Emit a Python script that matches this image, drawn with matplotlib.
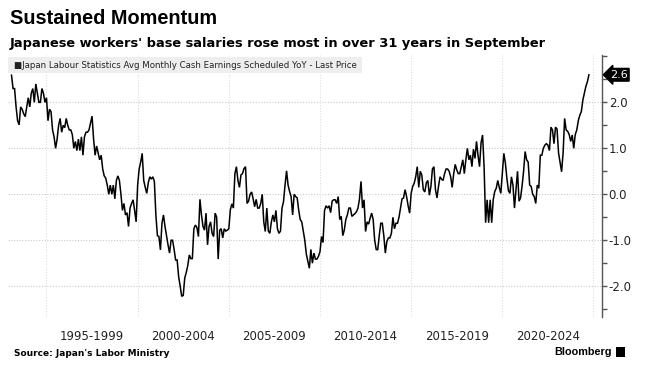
import matplotlib
matplotlib.use("Agg")
import matplotlib.pyplot as plt
import matplotlib.transforms as mtransforms
from matplotlib.patches import Rectangle
import numpy as np
import pandas as pd

# monthly YoY % change of scheduled cash earnings, Jan 1993 .. Sep 2024
yoy = [
    2.59, 2.30, 2.30, 1.90, 1.60, 1.51, 1.90, 1.85, 1.75, 1.69, 1.90, 2.10,
    1.90, 2.20, 2.30, 2.00, 2.40, 2.20, 2.00, 2.00, 2.30, 2.20, 2.00, 2.10,
    1.60, 1.85, 1.80, 1.40, 1.25, 1.00, 1.20, 1.50, 1.65, 1.35, 1.50, 1.45,
    1.65, 1.50, 1.40, 1.40, 1.30, 1.00, 1.15, 0.95, 1.20, 0.95, 1.25, 0.85,
    1.25, 1.35, 1.35, 1.40, 1.55, 1.70, 1.20, 0.85, 1.05, 0.90, 0.75, 0.85,
    0.55, 0.40, 0.35, 0.20, 0.00, 0.20, 0.00, 0.20, -0.10, 0.30, 0.40, 0.30,
    0.00, -0.35, -0.20, -0.45, -0.40, -0.70, -0.30, -0.20, -0.12, -0.35, -0.60, 0.20,
    0.55, 0.70, 0.89, 0.30, 0.15, 0.02, 0.25, 0.38, 0.33, 0.38, 0.28, -0.45,
    -0.90, -0.92, -1.21, -0.63, -0.45, -0.70, -0.90, -1.10, -1.28, -1.00, -1.00, -1.20,
    -1.43, -1.43, -1.80, -2.00, -2.22, -2.20, -1.82, -1.70, -1.55, -1.32, -1.40, -1.40,
    -0.75, -0.67, -0.72, -0.92, -0.11, -0.45, -0.70, -0.78, -0.41, -1.10, -0.70, -0.60,
    -0.85, -0.92, -0.41, -0.50, -1.41, -0.78, -0.75, -0.95, -0.75, -0.80, -0.78, -0.75,
    -0.34, -0.21, -0.30, 0.45, 0.60, 0.30, 0.15, 0.42, 0.45, 0.56, 0.60, -0.20,
    -0.15, 0.00, 0.05, -0.10, -0.27, -0.11, -0.30, -0.30, -0.20, 0.00, -0.60, -0.81,
    -0.30, -0.80, -0.85, -0.60, -0.45, -0.60, -0.35, -0.75, -0.85, -0.80, -0.30, -0.16,
    0.20, 0.51, 0.20, 0.06, -0.05, -0.45, 0.00, -0.05, -0.08, -0.35, -0.55, -0.60,
    -0.80, -1.00, -1.30, -1.45, -1.61, -1.20, -1.50, -1.28, -1.41, -1.41, -1.35, -1.25,
    -0.92, -1.05, -0.35, -0.25, -0.30, -0.25, -0.40, -0.15, -0.12, -0.12, -0.20, -0.05,
    -0.55, -0.48, -0.90, -0.78, -0.55, -0.45, -0.30, -0.30, -0.48, -0.45, -0.42, -0.38,
    -0.30, -0.10, 0.28, -0.30, -0.12, -0.81, -0.60, -0.65, -0.52, -0.41, -0.55, -1.00,
    -1.20, -1.21, -0.90, -0.63, -0.63, -0.90, -1.28, -1.03, -0.95, -0.95, -0.85, -0.50,
    -0.75, -0.63, -0.63, -0.50, -0.30, -0.10, -0.08, 0.10, -0.05, -0.25, -0.41, 0.02,
    0.17, 0.24, 0.38, 0.60, 0.15, 0.50, 0.42, 0.10, 0.05, 0.25, 0.30, -0.02,
    0.17, 0.55, 0.60, 0.10, -0.08, 0.17, 0.38, 0.33, 0.30, 0.45, 0.55, 0.55,
    0.50, 0.38, 0.15, 0.45, 0.65, 0.53, 0.45, 0.45, 0.60, 0.75, 0.45, 0.75,
    1.00, 0.75, 0.85, 0.60, 0.98, 0.78, 1.15, 0.85, 0.60, 1.12, 1.29, 0.60,
    -0.62, -0.12, -0.62, -0.12, -0.62, -0.12, 0.06, 0.13, 0.30, 0.15, 0.02, 0.45,
    0.89, 0.68, 0.35, 0.08, 0.02, 0.38, 0.20, -0.30, 0.10, 0.50, -0.15, -0.08,
    0.18, 0.50, 0.93, 0.75, 0.70, 0.20, 0.17, 0.00, -0.05, -0.20, 0.20, 0.13,
    0.85, 0.85, 1.00, 1.07, 1.10, 1.07, 0.95, 1.46, 1.40, 1.10, 1.46, 1.42,
    0.90, 0.70, 0.49, 0.90, 1.65, 1.40, 1.37, 1.30, 1.15, 1.29, 1.00, 1.30,
    1.40, 1.60, 1.72, 1.80, 2.05, 2.20, 2.35, 2.45, 2.60,
]
dates = pd.date_range("1993-01-31", periods=len(yoy), freq="ME")

period_labels = ["1995-1999", "2000-2004", "2005-2009", "2010-2014", "2015-2019", "2020-2024"]
period_starts = [1995, 2000, 2005, 2010, 2015, 2020]

# decimal years so the 5-year grid is easy
xs = dates.year + dates.month / 12.0

fig = plt.figure(figsize=(6.45, 3.76), dpi=100)
W, H = 645, 376
ax = fig.add_axes([8 / W, 1 - 317 / H, (601.7 - 8) / W, (317 - 55) / H])

ax.plot(xs, yoy, color="black", lw=1.1, solid_joinstyle="miter")
ax.set_xlim(1992.89, 2025.45)
ax.set_ylim(-2.67, 3.03)

# grid
for v in [-2, -1, 0, 1, 2]:
    ax.axhline(v, color="#c8c8c8", lw=0.8, ls=(0, (1, 1.5)), zorder=0)
for yr in period_starts + [2025]:
    ax.axvline(yr, color="#dddddd", lw=0.8, ls=(0, (1, 1.5)), zorder=0)

# right axis
for s in ["top", "left", "bottom"]:
    ax.spines[s].set_visible(False)
ax.spines["right"].set_color("#555555")
ax.spines["right"].set_linewidth(1.0)
ax.yaxis.tick_right()
ax.set_yticks([-2, -1, 0, 1, 2, 3])
ax.set_yticklabels(["-2.0", "-1.0", "0.0", "1.0", "2.0", ""])
ax.set_yticks(np.arange(-2.5, 3.0, 1.0), minor=True)
ax.tick_params(axis="y", which="both", direction="out", length=3.5, width=1.0,
               color="#555555", labelsize=8.5, pad=1.5, labelcolor="#222222")

# period labels centred in each 5-year block
ax.set_xticks([s + 2.5 for s in period_starts])
ax.set_xticklabels(period_labels)
ax.tick_params(axis="x", length=0, labelsize=8.5, pad=9.5, labelcolor="#222222")

# last-value tag
trans = mtransforms.blended_transform_factory(ax.transAxes, ax.transData)
ax.text(1.014, yoy[-1], f"{yoy[-1]:.1f}", transform=trans, ha="left", va="center",
        color="white", fontsize=8,
        bbox=dict(boxstyle="larrow,pad=0.12", fc="black", ec="black"))

# titles
fig.text(10 / W, 1 - 19 / H, "Sustained Momentum", fontsize=14.3, fontweight="bold",
         family="Liberation Sans", va="center", ha="left", color="black")
fig.text(10 / W, 1 - 43 / H, "Japanese workers' base salaries rose most in over 31 years in September",
         fontsize=9.4, fontweight="bold", va="center", ha="left", color="black")

# legend strip
fig.patches.append(Rectangle((8 / W, 1 - 73 / H), (362 - 8) / W, 16 / H,
                             transform=fig.transFigure, fc="#eeeeee", ec="none", zorder=0))
fig.text(14 / W, 1 - 65 / H,
         "\u25a0Japan Labour Statistics Avg Monthly Cash Earnings Scheduled YoY - Last Price",
         fontsize=6.2, va="center", ha="left", color="#222222")

# footer
fig.text(14 / W, 1 - 353 / H, "Source: Japan's Labor Ministry", fontsize=6.5, fontweight="bold",
         va="center", ha="left", color="black")
fig.text(612 / W, 1 - 352 / H, "Bloomberg", fontsize=7.8, fontweight="bold",
         family="Liberation Sans", va="center", ha="right", color="black")
fig.patches.append(Rectangle((616 / W, 1 - 357 / H), 9 / W, 10 / H,
                             transform=fig.transFigure, fc="black", ec="none"))

fig.savefig("out.png", dpi=100, facecolor="white")
